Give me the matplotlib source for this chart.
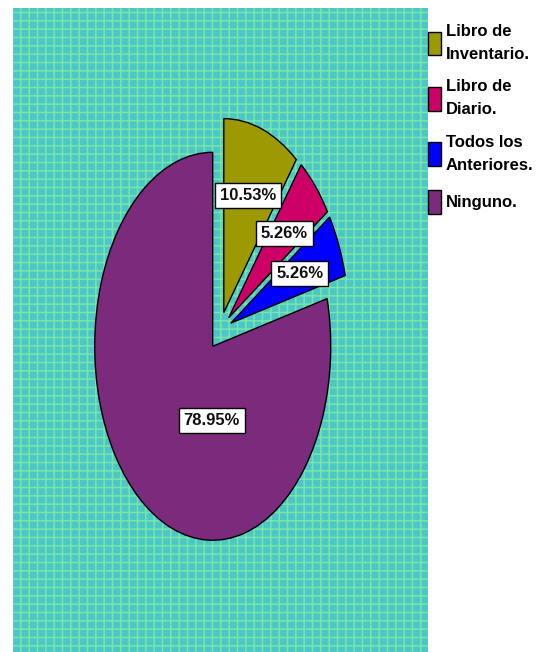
"""Pie chart: libros contables utilizados (recreated)."""
import matplotlib

matplotlib.use("Agg")
import matplotlib.pyplot as plt

# Data
categories = ["Libro de\nInventario.", "Libro de\nDiario.", "Todos los\nAnteriores.", "Ninguno."]
percents = [10.53, 5.26, 5.26, 78.95]
colors = ["#9c9a00", "#cc0066", "#0000ff", "#7b2a7c"]

FONT = ["Liberation Sans", "DejaVu Sans"]
plt.rcParams["hatch.linewidth"] = 1.1

fig = plt.figure(figsize=(5.36, 6.52), dpi=100)
ax = fig.add_axes([13 / 536, 0, 415 / 536, 644 / 652])

wedges, texts, autotexts = ax.pie(
    percents, colors=colors, explode=[0.1] * 4, startangle=90, counterclock=False,
    autopct="%1.2f%%", pctdistance=0.64,
    wedgeprops=dict(edgecolor="black", linewidth=1.0),
    textprops=dict(fontsize=12, fontweight="bold", family=FONT, color="#111111"),
)
# stretched (elliptic) pie like the original export
ax.set_aspect("auto")
ax.set_xlim(-1.754, 1.763)
ax.set_ylim(-1.655, 1.665)
ax.set_frame_on(True)
for s in ax.spines.values():
    s.set_visible(False)
ax.patch.set_facecolor("#4cc6c6")
ax.patch.set_edgecolor("#78e6a6")
ax.patch.set_hatch("++")

for t in autotexts:
    t.set_bbox(dict(boxstyle="square,pad=0.3", fc="white", ec="black", lw=1.0))
# the large slice label sits nearer the centre in the original
autotexts[3].set_position((-0.07, -0.46))

leg = ax.legend(wedges, categories, loc="upper left", bbox_to_anchor=(1.0, 0.975),
                frameon=False, handlelength=0.75, handleheight=1.8, handletextpad=0.3,
                labelspacing=1.05, borderaxespad=0, borderpad=0,
                prop=dict(family=FONT, weight="bold", size=12))
for t in leg.get_texts():
    t.set_linespacing(1.65)

fig.savefig("out.png", dpi=100)
